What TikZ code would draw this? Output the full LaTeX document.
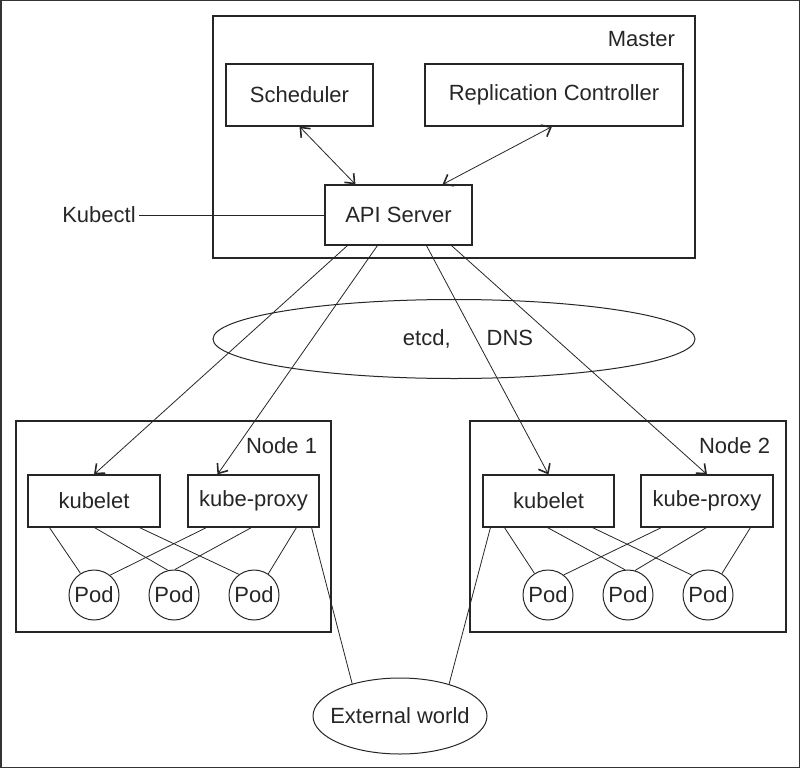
\documentclass[tikz,border=0pt]{standalone}
\usepackage{fontspec}
\setmainfont{Liberation Sans}
\usetikzlibrary{arrows.meta,shapes.geometric}
\begin{document}
\begin{tikzpicture}[x=1pt,y=-1pt,
    >={Straight Barb[length=8pt,width=13pt,line width=1.6pt]},
    every node/.style={font=\fontsize{22}{26}\selectfont,text=black!85},
    box/.style={draw=black!85,line width=1.1pt,inner sep=0pt},
    pod/.style={draw=black!85,circle,line width=1pt,minimum size=50pt,inner sep=0pt},
    cloud/.style={draw=black!85,ellipse,line width=1pt,inner sep=0pt},
    link/.style={draw=black!85,line width=0.8pt}]
  \useasboundingbox (0,0) rectangle (800,768);
  \draw[black!80,line width=1.5pt] (0.75,0.75) rectangle (799.25,767.25);
  \draw
    (454,137) node[box,minimum width=482,minimum height=242] (master){}
    (299.5,95) node[box,minimum width=147,minimum height=62] (sched){Scheduler}
    (554,95) node[box,minimum width=258,minimum height=62] (repl){Replication Controller}
    (398.5,215) node[box,minimum width=147,minimum height=60] (api){API Server}
    (99,215) node (kubectl){Kubectl}
    (454,339) node[cloud,minimum width=482,minimum height=79] (store){\hspace{28pt}etcd,\hspace{36pt}DNS}
    (173.5,526.5) node[box,minimum width=315,minimum height=211] (node1){}
    (628,526.5) node[box,minimum width=316,minimum height=211] (node2){}
    (94,501) node[box,minimum width=132,minimum height=52] (kubelet1){kubelet}
    (253.5,501) node[box,minimum width=131,minimum height=52] (proxy1){kube-proxy}
    (548.5,501) node[box,minimum width=131,minimum height=52] (kubelet2){kubelet}
    (707,501) node[box,minimum width=132,minimum height=52] (proxy2){kube-proxy}
    (94,595) node[pod] (pod11){Pod}
    (174,595) node[pod] (pod12){Pod}
    (254,595) node[pod] (pod13){Pod}
    (548,595) node[pod] (pod21){Pod}
    (628,595) node[pod] (pod22){Pod}
    (708,595) node[pod] (pod23){Pod}
    (400,716) node[cloud,minimum width=174,minimum height=76] (ext){\makebox[0pt]{External world}};
  \node[anchor=east] (masterlabel) at ([xshift=-17,yshift=-24]master.north east) {Master};
  \node[anchor=east] (node1label) at ([xshift=-11,yshift=-25]node1.north east) {Node 1};
  \node[anchor=east] (node2label) at ([xshift=-13,yshift=-25]node2.north east) {Node 2};
  \begin{scope}[link]
    \draw (kubectl) to (api);
    \draw[->] ([xshift=23]api.south west) to (kubelet1.north);
    \draw[->] ([xshift=53]api.south west) to ([xshift=30]proxy1.north west);
    \draw[->] ([xshift=102]api.south west) to (kubelet2.north);
    \draw[->] ([xshift=127]api.south west) to (proxy2.north);
    \draw ([xshift=22]kubelet1.south west) to (pod11.122);
    \draw ([xshift=67]kubelet1.south west) to (pod12.104);
    \draw ([xshift=112]kubelet1.south west) to (pod13.126);
    \draw ([xshift=19]proxy1.south west) to (pod11.51);
    \draw ([xshift=64]proxy1.south west) to (pod12.88);
    \draw ([xshift=109]proxy1.south west) to (pod13.56);
    \draw ([xshift=22]kubelet2.south west) to (pod21.122);
    \draw ([xshift=65]kubelet2.south west) to (pod22.97);
    \draw ([xshift=110]kubelet2.south west) to (pod23.129);
    \draw ([xshift=21]proxy2.south west) to (pod21.52);
    \draw ([xshift=66]proxy2.south west) to (pod22.74);
    \draw ([xshift=110]proxy2.south west) to (pod23.57);
    \draw ([xshift=-8]proxy1.south east) to (ext.146);
    \draw ([xshift=8]kubelet2.south west) to (ext.33);
  \end{scope}
  \begin{scope}[link,<->]
    \draw (sched.south) to ([xshift=31]api.north west);
    \draw ([xshift=-2]repl.south) to ([xshift=-30]api.north east);
  \end{scope}
\end{tikzpicture}
\end{document}
